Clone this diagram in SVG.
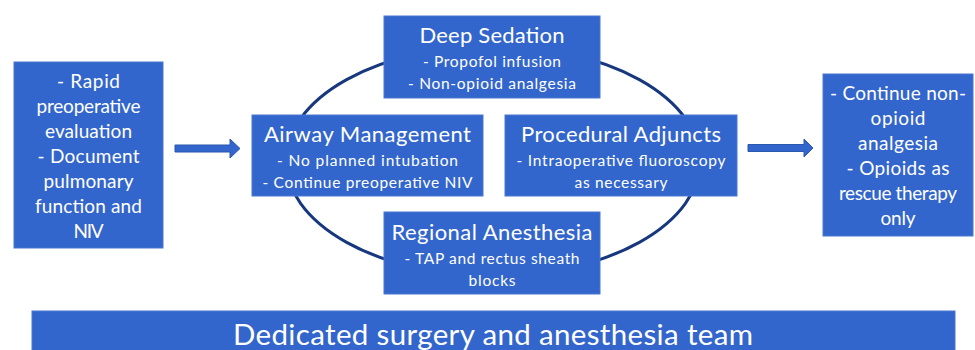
<svg xmlns="http://www.w3.org/2000/svg" width="975" height="350" viewBox="0 0 975 350">
<style>
.box{fill:#3366cc;stroke:#4a78d2;stroke-width:1}
.t{font-family:Lato,"Open Sans","Noto Sans",sans-serif;fill:#ffffff;text-anchor:middle}
.body{font-size:19px}
.title{font-size:22px}
.sub{font-size:15.5px}
.bar{font-size:29.5px}
.arrow{fill:#3366cc;stroke:#2b57ad;stroke-width:1}
.ring{fill:none;stroke:#17387e;stroke-width:3}
</style>
<rect width="975" height="350" fill="#ffffff"/>
<g id="connectors">
<ellipse class="ring" cx="493" cy="161" rx="207" ry="115"/>
<path class="arrow" d="M175,145 L230,145 L230,139 L240,148.5 L230,158 L230,152 L175,152 Z"/>
<path class="arrow" d="M748,144.5 L804,144.5 L804,139 L813,148 L804,157 L804,151.5 L748,151.5 Z"/>
</g>
<g id="preop">
<rect class="box" x="14" y="62" width="149" height="186"/>
<text class="t body" x="88.5" y="88" textLength="63">- Rapid</text>
<text class="t body" x="88.5" y="113" textLength="104">preoperative</text>
<text class="t body" x="88.5" y="138" textLength="87">evaluation</text>
<text class="t body" x="88.5" y="163" textLength="102">- Document</text>
<text class="t body" x="88.5" y="188" textLength="90">pulmonary</text>
<text class="t body" x="88.5" y="213" textLength="107">function and</text>
<text class="t body" x="88.5" y="238" textLength="30">NIV</text>
</g>
<g id="deep-sedation">
<rect class="box" x="384" y="16" width="216" height="82"/>
<text class="t title" x="492" y="43" textLength="145">Deep Sedation</text>
<text class="t sub" x="492" y="67" textLength="138">- Propofol infusion</text>
<text class="t sub" x="492" y="89" textLength="168">- Non-opioid analgesia</text>
</g>
<g id="airway">
<rect class="box" x="252" y="115" width="231" height="81"/>
<text class="t title" x="367.5" y="142" textLength="207">Airway Management</text>
<text class="t sub" x="367.5" y="166" textLength="181">- No planned intubation</text>
<text class="t sub" x="367.5" y="188" textLength="210">- Continue preoperative NIV</text>
</g>
<g id="procedural">
<rect class="box" x="505" y="115" width="232" height="81"/>
<text class="t title" x="621" y="142" textLength="200">Procedural Adjuncts</text>
<text class="t sub" x="621" y="166" textLength="209">- Intraoperative fluoroscopy</text>
<text class="t sub" x="621" y="188" textLength="93">as necessary</text>
</g>
<g id="regional">
<rect class="box" x="384" y="212" width="216" height="82"/>
<text class="t title" x="492" y="240" textLength="201">Regional Anesthesia</text>
<text class="t sub" x="492" y="264" textLength="175">- TAP and rectus sheath</text>
<text class="t sub" x="492" y="286" textLength="47">blocks</text>
</g>
<g id="postop">
<rect class="box" x="823" y="74" width="150" height="162"/>
<text class="t body" x="898" y="100" textLength="136">- Continue non-</text>
<text class="t body" x="898" y="125" textLength="55">opioid</text>
<text class="t body" x="898" y="150" textLength="80">analgesia</text>
<text class="t body" x="898" y="175" textLength="103">- Opioids as</text>
<text class="t body" x="898" y="200" textLength="118">rescue therapy</text>
<text class="t body" x="898" y="225" textLength="35">only</text>
</g>
<g id="team">
<rect class="box" x="32" y="311" width="923" height="45"/>
<text class="t bar" x="493" y="345" textLength="520">Dedicated surgery and anesthesia team</text>
</g>
</svg>
